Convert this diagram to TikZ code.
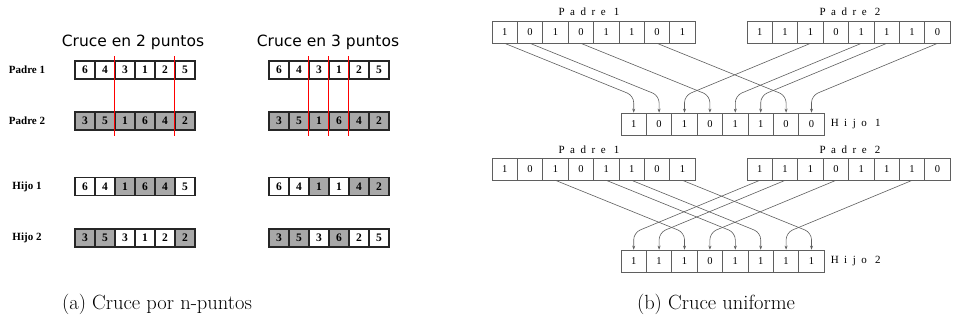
\documentclass[tikz,border=0pt]{standalone}
\usepackage{fontspec}
\newfontfamily\titlefont{DejaVu Sans}
\newfontfamily\timesfont{Liberation Serif}
\newfontfamily\spacedfont[LetterSpace=50]{Liberation Serif}
\usetikzlibrary{arrows.meta}
\definecolor{cellgray}{RGB}{168,168,168}
\definecolor{edgegray}{RGB}{95,95,95}
\begin{document}
\begin{tikzpicture}[x=1pt,y=-1pt,
  lcell/.style={draw=black!85, line width=1.3pt, minimum width=20pt, minimum height=18pt, inner sep=0pt, font=\timesfont\bfseries\fontsize{11.5}{11.5}\selectfont},
  wcell/.style={lcell, fill=white},
  gcell/.style={lcell, fill=cellgray},
  rowlabel/.style={font=\timesfont\bfseries\fontsize{11}{12}\selectfont},
  titletext/.style={font=\titlefont\fontsize{15.5}{18}\selectfont},
  cutline/.style={red, line width=1.3pt},
  bcell/.style={draw=edgegray, line width=0.7pt, minimum width=25.4pt, minimum height=22pt, inner sep=0pt, font=\timesfont\fontsize{10.5}{10.5}\selectfont},
  blabel/.style={font=\spacedfont\fontsize{11}{12}\selectfont, inner sep=0pt},
  conn/.style={draw=edgegray, line width=0.6pt, rounded corners=7pt, -{Stealth[length=4pt,width=3pt]}},
  captext/.style={font=\fontsize{20.5}{24}\selectfont}
]
\useasboundingbox (0,0) rectangle (953,327);
\fill[white] (0,0) rectangle (953,327);

% ---------- (a) ----------
\node[titletext] (t2) at (133,42) {Cruce en 2 puntos};
\node[titletext] (t3) at (328,42) {Cruce en 3 puntos};

\node[rowlabel] (lp1) at (27,70) {Padre 1};
\node[rowlabel] (lp2) at (27,121) {Padre 2};
\node[rowlabel] (lh1) at (27,186.5) {Hijo 1};
\node[rowlabel] (lh2) at (27,238) {Hijo 2};

% two-point set
\foreach \v/\s [count=\i] in {6/wcell,4/wcell,3/wcell,1/wcell,2/wcell,5/wcell}
  \node[\s] (A1-\i) at (65+20*\i,70) {\v};
\foreach \v/\s [count=\i] in {3/gcell,5/gcell,1/gcell,6/gcell,4/gcell,2/gcell}
  \node[\s] (A2-\i) at (65+20*\i,121) {\v};
\foreach \v/\s [count=\i] in {6/wcell,4/wcell,1/gcell,6/gcell,4/gcell,5/wcell}
  \node[\s] (A3-\i) at (65+20*\i,186.5) {\v};
\foreach \v/\s [count=\i] in {3/gcell,5/gcell,3/wcell,1/wcell,2/wcell,2/gcell}
  \node[\s] (A4-\i) at (65+20*\i,238) {\v};

% three-point set
\foreach \v/\s [count=\i] in {6/wcell,4/wcell,3/wcell,1/wcell,2/wcell,5/wcell}
  \node[\s] (B1-\i) at (259+20*\i,70) {\v};
\foreach \v/\s [count=\i] in {3/gcell,5/gcell,1/gcell,6/gcell,4/gcell,2/gcell}
  \node[\s] (B2-\i) at (259+20*\i,121) {\v};
\foreach \v/\s [count=\i] in {6/wcell,4/wcell,1/gcell,1/wcell,4/gcell,2/gcell}
  \node[\s] (B3-\i) at (259+20*\i,186.5) {\v};
\foreach \v/\s [count=\i] in {3/gcell,5/gcell,3/wcell,6/gcell,2/wcell,5/wcell}
  \node[\s] (B4-\i) at (259+20*\i,238) {\v};

% cut lines
\foreach \c in {A1-3,A1-6,B1-3,B1-4,B1-5}
  \draw[cutline] ([yshift=4pt]\c.north west) -- ([yshift=-56pt]\c.south west);

\node[captext] (capa) at (157,304) {(a) Cruce por n-puntos};

% ---------- (b) ----------
\foreach \v [count=\i] in {1,0,1,0,1,1,0,1}
  \node[bcell] (P1-\i) at (479.3+25.4*\i,32) {\v};
\foreach \v [count=\i] in {1,1,1,0,1,1,1,0}
  \node[bcell] (P2-\i) at (734.3+25.4*\i,32) {\v};
\foreach \v [count=\i] in {1,0,1,0,1,1,0,0}
  \node[bcell] (H1-\i) at (608.3+25.4*\i,124) {\v};

\foreach \v [count=\i] in {1,0,1,0,1,1,0,1}
  \node[bcell] (Q1-\i) at (479.3+25.4*\i,169) {\v};
\foreach \v [count=\i] in {1,1,1,0,1,1,1,0}
  \node[bcell] (Q2-\i) at (734.3+25.4*\i,169) {\v};
\foreach \v [count=\i] in {1,1,1,0,1,1,1,1}
  \node[bcell] (H2-\i) at (608.3+25.4*\i,261) {\v};

\node[blabel] (lbp1) at (589,12) {Padre 1};
\node[blabel] (lbp2) at (850,12) {Padre 2};
\node[blabel] (lbq1) at (589,150) {Padre 1};
\node[blabel] (lbq2) at (850,150) {Padre 2};
\node[blabel, anchor=west, xshift=6pt] (lbh1) at (H1-8.east) {Hijo 1};
\node[blabel, anchor=west, xshift=6pt] (lbh2) at (H2-8.east) {Hijo 2};

\foreach \p/\c in {P1-1/H1-1,P1-2/H1-2,P2-3/H1-3,P1-4/H1-4,P2-5/H1-5,P2-6/H1-6,P1-7/H1-7,P2-8/H1-8}
  \draw[conn] (\p.south) -- ([yshift=17pt]\c.north) -- (\c.north);
\foreach \p/\c in {Q2-1/H2-1,Q2-2/H2-2,Q1-3/H2-3,Q2-4/H2-4,Q1-5/H2-5,Q1-6/H2-6,Q2-7/H2-7,Q1-8/H2-8}
  \draw[conn] (\p.south) -- ([yshift=17pt]\c.north) -- (\c.north);

\node[captext] (capb) at (716,304) {(b) Cruce uniforme};
\end{tikzpicture}
\end{document}
